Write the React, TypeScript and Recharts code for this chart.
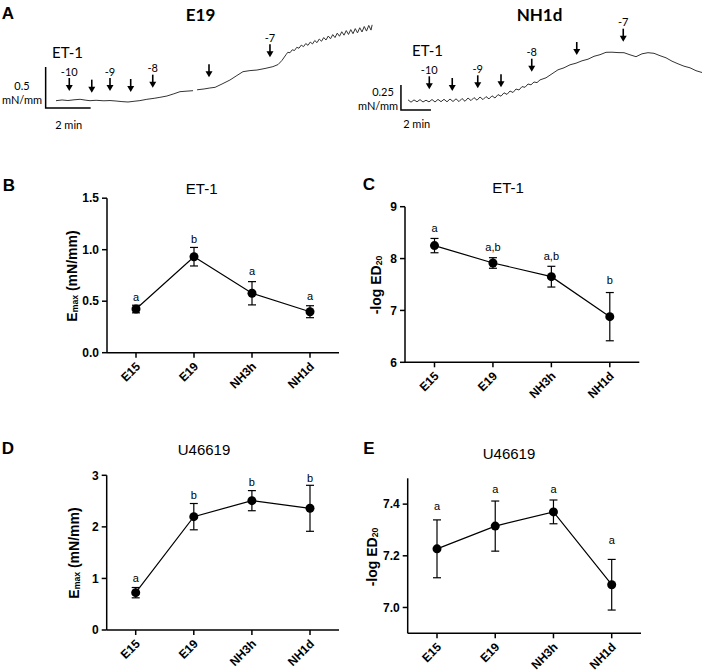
import React from 'react'
import { LineChart, ComposedChart, Line, XAxis, YAxis, ErrorBar, LabelList } from 'recharts'

const ARIAL = '"Liberation Sans", Arial, Helvetica, sans-serif'
const TRACE_FONT = 'Lato, "Open Sans", sans-serif'

// x axis groups of panels B–E
const groups = ['E15', 'E19', 'NH3h', 'NH1d']

// B: ET-1 Emax (mN/mm), mean and SEM
const et1Emax = [0.424, 0.932, 0.577, 0.398]
const et1EmaxSem = [0.037, 0.09, 0.113, 0.058]
const et1EmaxSig = ['a', 'b', 'a', 'a']

// C: ET-1 -log ED20
const et1Ed20 = [8.25, 7.915, 7.651, 6.88]
const et1Ed20Sem = [0.138, 0.102, 0.2, 0.465]
const et1Ed20Sig = ['a', 'a,b', 'a,b', 'b']

// D: U46619 Emax (mN/mm)
const u46Emax = [0.724, 2.198, 2.508, 2.36]
const u46EmaxSem = [0.1, 0.255, 0.195, 0.446]
const u46EmaxSig = ['a', 'b', 'b', 'b']

// E: U46619 -log ED20
const u46Ed20 = [7.227, 7.315, 7.37, 7.088]
const u46Ed20Sem = [0.112, 0.097, 0.046, 0.098]
const u46Ed20Sig = ['a', 'a', 'a', 'a']

// A: ET-1 recordings, [time (min), force (mN/mm)]
const e19Trace: [number, number | null][] = [
  [0, 0], [0.27, 0.009], [0.53, 0.002], [0.8, 0.011], [1.07, 0.017], [1.33, 0.006], [1.51, 0],
  [1.78, 0.005], [2.13, -0.001], [2.4, 0.002], [2.67, -0.004], [2.93, -0.011], [3.2, -0.016],
  [3.47, -0.007], [3.73, 0.001], [4.04, 0.017], [4.36, 0.029], [4.62, 0.041], [4.93, 0.057],
  [5.24, 0.084], [5.51, 0.11], [5.78, 0.116], [6.09, 0.122], [6.18, null], [6.27, 0.133],
  [6.58, 0.143], [6.84, 0.155], [7.07, 0.163], [7.38, 0.204], [7.73, 0.252], [8.04, 0.307],
  [8.31, 0.354], [8.62, 0.367], [8.93, 0.374], [9.29, 0.393], [9.64, 0.415], [9.87, 0.441],
  [10.04, 0.49], [10.22, 0.56], [10.3, 0.59], [10.4, 0.585], [10.5, 0.621], [10.6, 0.612],
  [10.7, 0.651], [10.8, 0.64], [10.9, 0.678], [11.0, 0.659], [11.1, 0.697], [11.2, 0.675],
  [11.3, 0.715], [11.4, 0.692], [11.5, 0.734], [11.6, 0.708], [11.7, 0.752], [11.8, 0.725],
  [11.9, 0.77], [12.0, 0.74], [12.1, 0.789], [12.2, 0.755], [12.3, 0.806], [12.4, 0.77],
  [12.5, 0.824], [12.6, 0.786], [12.7, 0.841], [12.8, 0.799], [12.9, 0.855], [13.0, 0.808],
  [13.1, 0.867], [13.2, 0.817], [13.3, 0.879], [13.4, 0.827], [13.5, 0.89], [13.6, 0.838],
  [13.7, 0.905], [13.8, 0.849], [13.9, 0.918], [14.0, 0.861], [14.05, 0.925],
]

const nh1dTrace: [number, number | null][] = [
  [0, 0.012], [0.2, -0.012], [0.4, 0.011], [0.6, -0.008], [0.8, 0.014], [1.0, -0.01], [1.2, 0.008],
  [1.4, -0.009], [1.6, 0.015], [1.8, -0.01], [2.0, 0.016], [2.2, -0.007], [2.4, 0.017], [2.6, -0.008],
  [2.8, 0.02], [3.0, -0.005], [3.2, 0.022], [3.4, -0.006], [3.6, 0.025], [3.8, -0.003], [4.0, 0.03],
  [4.2, 0.004], [4.4, 0.034], [4.6, 0.008], [4.8, 0.04], [5.0, 0.014], [5.2, 0.044], [5.4, 0.021],
  [5.6, 0.052], [5.8, 0.03], [6.0, 0.064], [6.2, 0.048], [6.4, 0.082], [6.6, 0.066], [6.8, 0.1],
  [7.0, 0.085], [7.2, 0.12], [7.4, 0.11], [7.6, 0.144], [7.8, 0.137], [8.0, 0.17], [8.2, 0.162],
  [8.4, 0.19], [8.6, 0.184], [8.8, 0.211], [9.2, 0.232], [9.6, 0.272], [10.0, 0.312], [10.4, 0.332],
  [10.8, 0.362], [11.2, 0.378], [11.6, 0.402], [12.0, 0.418], [12.4, 0.447], [12.8, 0.463],
  [13.2, 0.487], [13.6, 0.488], [14.0, 0.484], [14.4, 0.483], [14.8, 0.462], [15.2, 0.443],
  [15.6, 0.472], [16.0, 0.483], [16.4, 0.477], [16.8, 0.453], [17.2, 0.432], [17.6, 0.398],
  [18.0, 0.372], [18.4, 0.348], [18.8, 0.332], [19.2, 0.303], [19.6, 0.285],
]

// ET-1 additions (log M), arrow tip on the trace
const doseLabels = ['-10', '', '-9', '', '-8', '', '-7']
const e19ArrowTime = [0.59, 1.59, 2.4, 3.32, 4.3, 6.8, 9.51]
const e19ArrowForce = [0.118, 0.098, 0.118, 0.106, 0.159, 0.285, 0.529]
const nh1dArrowTime = [1.42, 2.95, 4.65, 6.2, 8.25, 11.25, 14.35]
const nh1dArrowForce = [0.117, 0.1, 0.127, 0.137, 0.293, 0.46, 0.593]

// calibration bars: 2 min, 0.5 / 0.25 mN/mm
const e19ScaleBar = [[-0.46, 0.41], [-0.46, -0.09], [1.54, -0.09]]
const nh1dScaleBar = [[-0.47, 0.16], [-0.47, -0.09], [1.53, -0.09]]

function Txt({ x, y, size, bold, font = ARIAL, rotate, children }: any) {
  return (
    <div
      style={{
        position: 'absolute',
        left: x,
        top: y,
        transform: `translate(-50%, -50%)${rotate ? ' rotate(-90deg)' : ''}`,
        fontSize: size,
        fontWeight: bold ? 700 : 400,
        fontFamily: font,
        lineHeight: 1,
        whiteSpace: 'nowrap',
        color: '#000',
      }}
    >
      {children}
    </div>
  )
}

const renderArrow = (props: any) => {
  const { cx, cy, index, payload } = props
  return (
    <g key={`arrow-${index}`}>
      <line x1={cx} y1={cy - 13} x2={cx} y2={cy - 5} stroke="#000" strokeWidth={1.6} />
      <polygon points={`${cx - 3.5},${cy - 6} ${cx + 3.5},${cy - 6} ${cx},${cy}`} fill="#000" />
      {payload.label ? (
        <text x={cx} y={cy - 20} textAnchor="middle" dominantBaseline="central" fontSize={11} fontFamily={TRACE_FONT} fill="#000">
          {payload.label}
        </text>
      ) : null}
    </g>
  )
}

function TracePanel({ box, x0, y0, pxPerMin, pxPerForce, trace, arrowTime, arrowForce, scaleBar }: any) {
  const tDomain = [(box.left - x0) / pxPerMin, (box.left + box.width - x0) / pxPerMin]
  const fDomain = [(y0 - box.top - box.height) / pxPerForce, (y0 - box.top) / pxPerForce]
  const traceRows = trace.map(([t, f]: any) => ({ t, f }))
  const arrowRows = arrowTime.map((t: number, i: number) => ({ t, f: arrowForce[i], label: doseLabels[i] }))
  const barRows = scaleBar.map(([t, f]: any) => ({ t, f }))
  return (
    <div style={{ position: 'absolute', left: box.left, top: box.top }}>
      <ComposedChart width={box.width} height={box.height} margin={{ top: 0, right: 0, bottom: 0, left: 0 }}>
        <XAxis type="number" dataKey="t" domain={tDomain} hide allowDataOverflow />
        <YAxis type="number" domain={fDomain} hide allowDataOverflow />
        <Line data={traceRows} dataKey="f" stroke="#333" strokeWidth={1} dot={false} activeDot={false} isAnimationActive={false} />
        <Line data={barRows} dataKey="f" stroke="#000" strokeWidth={1.5} dot={false} activeDot={false} isAnimationActive={false} />
        <Line data={arrowRows} dataKey="f" stroke="none" dot={renderArrow} activeDot={false} isAnimationActive={false} />
      </ComposedChart>
    </div>
  )
}

const rotTick = (props: any) => {
  const { x, y, payload } = props
  return (
    <text
      transform={`translate(${x + 5},${y + 7.5}) rotate(-45)`}
      textAnchor="end"
      fontSize={12}
      fontWeight={700}
      fontFamily={ARIAL}
      fill="#000"
    >
      {payload.value}
    </text>
  )
}

const sigLabel = (lift: number[]) => (props: any) => {
  const { x, y, value, index } = props
  return (
    <text x={x} y={y - lift[index]} textAnchor="middle" dominantBaseline="central" fontSize={11} fontFamily={ARIAL} fill="#000">
      {value}
    </text>
  )
}

const axisStyle = { stroke: '#000', strokeWidth: 1.5 }

function StatPanel({ box, yWidth, marginTop, marginRight, xHeight, pad, domain, ticks, digits, mean, sem, sig, lift }: any) {
  const rows = groups.map((g, i) => ({ group: g, mean: mean[i], sem: sem[i], top: mean[i] + sem[i], sig: sig[i] }))
  return (
    <div style={{ position: 'absolute', left: box.left, top: box.top }}>
      <LineChart width={box.width} height={box.height} data={rows} margin={{ top: marginTop, right: marginRight, bottom: 0, left: 0 }}>
        <XAxis
          dataKey="group"
          height={xHeight}
          padding={{ left: pad, right: pad }}
          interval={0}
          tick={rotTick}
          tickSize={5}
          axisLine={axisStyle}
          tickLine={axisStyle}
        />
        <YAxis
          type="number"
          domain={domain}
          ticks={ticks}
          width={yWidth}
          tickSize={5}
          tickMargin={3}
          allowDataOverflow
          tickFormatter={(v: number) => v.toFixed(digits)}
          tick={{ fontSize: 12, fontWeight: 700, fill: '#000', fontFamily: ARIAL }}
          axisLine={axisStyle}
          tickLine={axisStyle}
        />
        <Line dataKey="top" stroke="none" dot={false} activeDot={false} isAnimationActive={false}>
          <LabelList dataKey="sig" content={sigLabel(lift)} />
        </Line>
        <Line
          dataKey="mean"
          stroke="#000"
          strokeWidth={1.2}
          dot={{ r: 4.5, fill: '#000', stroke: '#000', strokeWidth: 0 }}
          activeDot={false}
          isAnimationActive={false}
        >
          <ErrorBar dataKey="sem" width={4} stroke="#000" strokeWidth={1.2} direction="y" />
        </Line>
      </LineChart>
    </div>
  )
}

const sub = (s: string) => <span style={{ fontSize: '0.62em', verticalAlign: '-0.15em' }}>{s}</span>

export default function App() {
  return (
    <div style={{ position: 'absolute', left: 0, top: 0, width: 710, height: 671, background: '#fff', overflow: 'hidden' }}>
      <TracePanel
        box={{ left: 30, top: 15, width: 350, height: 120 }}
        x0={56}
        y0={100.7}
        pxPerMin={22.5}
        pxPerForce={82}
        trace={e19Trace}
        arrowTime={e19ArrowTime}
        arrowForce={e19ArrowForce}
        scaleBar={e19ScaleBar}
      />
      <TracePanel
        box={{ left: 355, top: 10, width: 355, height: 125 }}
        x0={408}
        y0={101}
        pxPerMin={15}
        pxPerForce={100}
        trace={nh1dTrace}
        arrowTime={nh1dArrowTime}
        arrowForce={nh1dArrowForce}
        scaleBar={nh1dScaleBar}
      />

      <StatPanel
        box={{ left: 0, top: 170, width: 360, height: 230 }}
        yWidth={107}
        marginTop={28.2}
        marginRight={21}
        xHeight={47.3}
        pad={29}
        domain={[0, 1.5]}
        ticks={[0, 0.5, 1, 1.5]}
        digits={1}
        mean={et1Emax}
        sem={et1EmaxSem}
        sig={et1EmaxSig}
        lift={[8.6, 8.6, 10.9, 9.6]}
      />
      <StatPanel
        box={{ left: 360, top: 170, width: 350, height: 230 }}
        yWidth={45}
        marginTop={36.7}
        marginRight={70.7}
        xHeight={37.7}
        pad={29.5}
        domain={[6, 9]}
        ticks={[6, 7, 8, 9]}
        digits={0}
        mean={et1Ed20}
        sem={et1Ed20Sem}
        sig={et1Ed20Sig}
        lift={[10, 10.9, 10.4, 12.5]}
      />
      <StatPanel
        box={{ left: 0, top: 400, width: 360, height: 271 }}
        yWidth={106.7}
        marginTop={75.3}
        marginRight={21}
        xHeight={41}
        pad={29}
        domain={[0, 3]}
        ticks={[0, 1, 2, 3]}
        digits={0}
        mean={u46Emax}
        sem={u46EmaxSem}
        sig={u46EmaxSig}
        lift={[10, 8.6, 9, 7.2]}
      />
      <StatPanel
        box={{ left: 360, top: 400, width: 350, height: 271 }}
        yWidth={47.7}
        marginTop={78.3}
        marginRight={69}
        xHeight={37.7}
        pad={29.3}
        domain={[6.9, 7.5]}
        ticks={[7, 7.2, 7.4]}
        digits={1}
        mean={u46Ed20}
        sem={u46Ed20Sem}
        sig={u46Ed20Sig}
        lift={[14, 12, 11, 19]}
      />

      {/* panel letters */}
      <Txt x={8} y={13} size={17} bold>A</Txt>
      <Txt x={9} y={185} size={17} bold>B</Txt>
      <Txt x={369} y={184} size={17} bold>C</Txt>
      <Txt x={8} y={448} size={17} bold>D</Txt>
      <Txt x={369} y={448} size={17} bold>E</Txt>

      {/* trace annotations */}
      <Txt x={200.5} y={14} size={17} bold font={TRACE_FONT}>E19</Txt>
      <Txt x={539.5} y={14} size={17} bold font={TRACE_FONT}>NH1d</Txt>
      <Txt x={67.5} y={52} size={15} font={TRACE_FONT}>ET-1</Txt>
      <Txt x={427.5} y={50} size={15} font={TRACE_FONT}>ET-1</Txt>
      <Txt x={22} y={85} size={11} font={TRACE_FONT}>0.5</Txt>
      <Txt x={22} y={98.5} size={11} font={TRACE_FONT}>mN/mm</Txt>
      <Txt x={68.7} y={123.5} size={11} font={TRACE_FONT}>2 min</Txt>
      <Txt x={383} y={91} size={11} font={TRACE_FONT}>0.25</Txt>
      <Txt x={378} y={104.5} size={11} font={TRACE_FONT}>mN/mm</Txt>
      <Txt x={416.7} y={123} size={11} font={TRACE_FONT}>2 min</Txt>

      {/* panel titles */}
      <Txt x={201.7} y={188} size={15}>ET-1</Txt>
      <Txt x={508} y={187} size={15}>ET-1</Txt>
      <Txt x={204} y={449} size={15}>U46619</Txt>
      <Txt x={509} y={453} size={15}>U46619</Txt>

      {/* y axis titles */}
      <Txt x={72} y={275.5} size={14} bold rotate>E{sub('max')} (mN/mm)</Txt>
      <Txt x={375.5} y={284.5} size={14} bold rotate>-log ED{sub('20')}</Txt>
      <Txt x={74} y={552.6} size={14} bold rotate>E{sub('max')} (mN/mm)</Txt>
      <Txt x={371.5} y={557} size={14} bold rotate>-log ED{sub('20')}</Txt>
    </div>
  )
}
